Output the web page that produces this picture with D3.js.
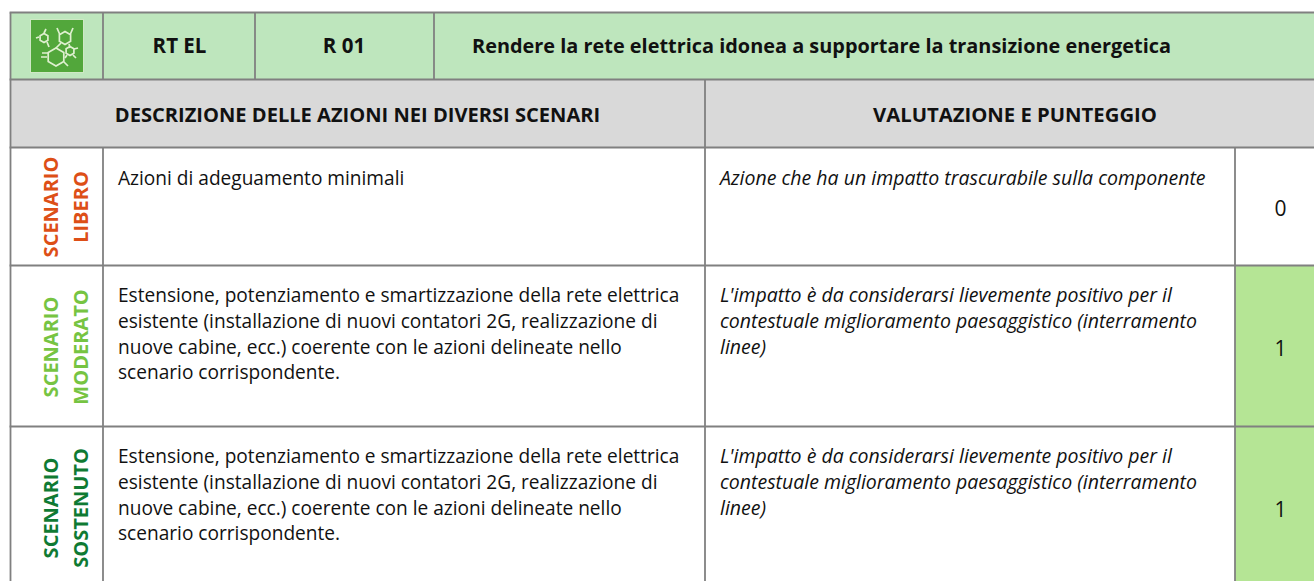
<!DOCTYPE html>
<html><head><meta charset="utf-8">
<script src="https://cdn.jsdelivr.net/npm/d3@7/dist/d3.min.js"></script>
<style>html,body{margin:0;padding:0;background:#fff;overflow:hidden}svg{display:block}text{font-family:"Open Sans",sans-serif;fill:#111}</style>
</head><body><div id="c"></div>
<script>
const code = ["RT EL","R 01"];
const title = "Rendere la rete elettrica idonea a supportare la transizione energetica";
const headers = ["DESCRIZIONE DELLE AZIONI NEI DIVERSI SCENARI","VALUTAZIONE E PUNTEGGIO"];
const scenarioLabels = [["SCENARIO","LIBERO"],["SCENARIO","MODERATO"],["SCENARIO","SOSTENUTO"]];
const scenarioColors = ["#dd4f17","#76c442","#0f7a33"];
const descText = "Estensione, potenziamento e smartizzazione della rete elettrica|esistente (installazione di nuovi contatori 2G, realizzazione di|nuove cabine, ecc.) coerente con le azioni delineate nello|scenario corrispondente.".split("|");
const descriptions = [["Azioni di adeguamento minimali"],descText,descText];
const evalText = "L'impatto è da considerarsi lievemente positivo per il|contestuale miglioramento paesaggistico (interramento|linee)".split("|");
const evaluations = [["Azione che ha un impatto trascurabile sulla componente"],evalText,evalText];
const scores = [0,1,1];
const scoreColors = ["#ffffff","#b5e595","#b5e595"];

const W=1314,H=581,line="#808080";
const xs={l:10.5,a:103,b:255,c:434,d:705,e:1235,r:1314};
const ys={t:12.5,h:79.5,g:147.5,r1:265.5,r2:426.5,b:581};
const rowY=d3.scaleOrdinal().domain([0,1,2,3]).range([ys.g,ys.r1,ys.r2,ys.b]);
const svg=d3.select("#c").append("svg").attr("width",W).attr("height",H);
const rect=(x0,y0,x1,y1,f)=>svg.append("rect").attr("x",x0).attr("y",y0).attr("width",x1-x0).attr("height",y1-y0).attr("fill",f);
rect(xs.l,ys.t,xs.r,ys.h,"#bee6bd");
rect(xs.l,ys.h,xs.r,ys.g,"#d9d9d9");
scores.forEach((s,i)=>rect(xs.e,rowY(i),xs.r,rowY(i+1),scoreColors[i]));
// icon
const ig=svg.append("g");
ig.append("rect").attr("x",30.5).attr("y",19.5).attr("width",53).attr("height",53).attr("fill","#52a73b").attr("stroke","#cfe8c5").attr("stroke-width",1);
const ring=(cx,cy,r,a0)=>"M"+d3.range(6).map(k=>{const a=a0+k*Math.PI/3;return [cx+r*Math.cos(a),cy+r*Math.sin(a)].map(v=>v.toFixed(1)).join(" ")}).join("L")+"Z";
const iconPaths=[
 ring(56,57,9,Math.PI/6),
 ring(65,38,6.5,Math.PI/6),
 ring(70,51,4.5,Math.PI/6),
 ring(44,38,4.5,Math.PI/6),
 "M56 48 L61 43 M48 53 L42 53 M64 62 L68 66 M47 57 L41 57",
 "M60 35 L57 28 M70 35 L73 28 M70 48 L69 44 M74 49 L78 48 M73 55 L76 58 M67 55 L65 58",
 "M44 33 L46 29 M39 37 L36 38 M47 42 L49 47"];
ig.selectAll("path").data(iconPaths).join("path").attr("d",d=>d).attr("fill","none").attr("stroke","#dff0d0").attr("stroke-width",1.7);
// grid
const L=(x0,y0,x1,y1)=>svg.append("line").attr("x1",x0).attr("y1",y0).attr("x2",x1).attr("y2",y1).attr("stroke",line).attr("stroke-width",1.8);
[ys.t,ys.h,ys.g,ys.r1,ys.r2].forEach(y=>L(xs.l-.9,y,xs.r,y));
L(xs.l,ys.t,xs.l,ys.b);
[xs.a,xs.b,xs.c].forEach(x=>L(x,ys.t,x,ys.h));
L(xs.a,ys.g,xs.a,ys.b);L(xs.d,ys.h,xs.d,ys.b);L(xs.e,ys.g,xs.e,ys.b);
const T=(x,y,s,o={})=>svg.append("text").attr("x",x).attr("y",y).text(s).attr("font-size",o.size||16).attr("font-weight",o.w||400).attr("font-style",o.i||"normal").attr("text-anchor",o.a||"start").style("fill",o.c||"#111");
T(179.5,53,code[0],{size:20.5,w:700,a:"middle"});
T(344,53,code[1],{size:20.5,w:700,a:"middle"});
T(472,53,title,{size:19.9,w:700});
T(357.5,122,headers[0],{size:20.1,w:700,a:"middle"});
T(873,122,headers[1],{size:20.3,w:700});
const lh=25.8;
const firstBase=[185,302,463];
const scoreY=[216,356,517];
const rotCy=[207,347,508];
scenarioLabels.forEach((lab,i)=>{
 lab.forEach((t,j)=>{
  const x=[58,88][j];
  svg.append("text").attr("transform",`translate(${x},${rotCy[i]}) rotate(-90)`).attr("text-anchor","middle").attr("font-size",20).attr("font-weight",700).style("fill",scenarioColors[i]).text(t);
 });
 descriptions[i].forEach((t,j)=>T(118,firstBase[i]+j*lh,t,{size:19.1}));
 evaluations[i].forEach((t,j)=>T(720,firstBase[i]+j*lh,t,{size:19.5,i:"italic"}));
 T(1280.5,scoreY[i],scores[i],{size:21,a:"middle"});
});
</script></body></html>
